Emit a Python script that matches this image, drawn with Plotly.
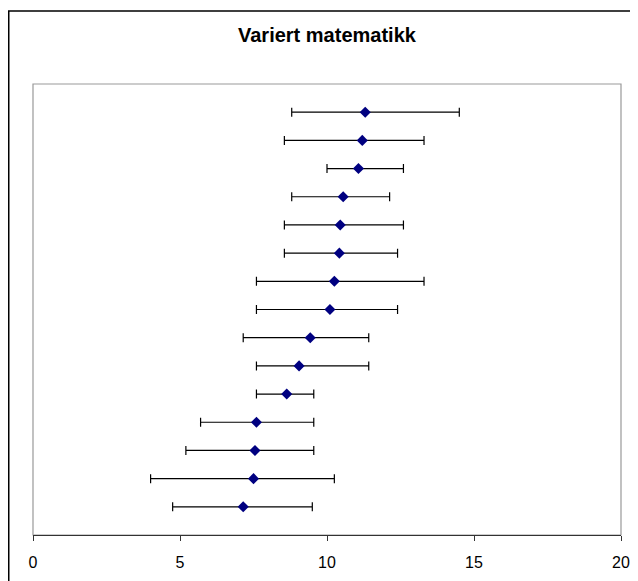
import plotly.graph_objects as go

# Data (top row first)
rows = list(range(15, 0, -1))
means = [11.3, 11.2, 11.07, 10.55, 10.45, 10.42, 10.25, 10.1, 9.43, 9.05, 8.63, 7.6, 7.55, 7.5, 7.15]
lows = [8.8, 8.55, 10.0, 8.8, 8.55, 8.55, 7.6, 7.6, 7.15, 7.6, 7.6, 5.7, 5.2, 4.0, 4.75]
highs = [14.5, 13.3, 12.6, 12.13, 12.6, 12.4, 13.3, 12.4, 11.42, 11.42, 9.55, 9.55, 9.55, 10.25, 9.5]
x_ticks = [0, 5, 10, 15, 20]
title_text = "Variert matematikk"

plus = [h - m for h, m in zip(highs, means)]
minus = [m - l for m, l in zip(means, lows)]

# the page body adds an 8px margin; lay the figure out 8px up/left
OFF = 8
W, H = 638, 581
L = 33 - OFF
Rx = 621 - OFF
T = 84 - OFF
By = 534.7 - OFF
pw, ph = Rx - L, By - T

def px_x(p):
    return (p - OFF - L) / pw

def px_y(p):
    return (By - (p - OFF)) / ph

fig = go.Figure()
fig.add_trace(go.Scatter(
    x=means, y=rows, mode="markers",
    marker=dict(symbol="diamond", color="#000080", size=8.5, line=dict(width=0)),
    error_x=dict(type="data", symmetric=False, array=plus, arrayminus=minus,
                 color="#000000", thickness=1.2, width=4.5),
    showlegend=False, cliponaxis=False,
))

shapes = [
    # outer chart border (left and top visible)
    dict(type="rect", xref="paper", yref="paper",
         x0=px_x(8.75), x1=px_x(680), y0=px_y(640), y1=px_y(11),
         line=dict(color="#000000", width=1.5), layer="below"),
    # plot area border
    dict(type="rect", xref="paper", yref="paper", x0=0, x1=1, y0=0, y1=1,
         line=dict(color="#999999", width=1.2), layer="below"),
]

fig.update_layout(
    width=W, height=H,
    margin=dict(l=L, r=W - Rx, t=T, b=H - By),
    paper_bgcolor="white", plot_bgcolor="white",
    font=dict(family="Liberation Sans, Arial, sans-serif", color="#000000"),
    shapes=shapes,
    annotations=[dict(text="<b>%s</b>" % title_text, xref="paper", yref="paper",
                      x=0.5, y=px_y(35), xanchor="center", yanchor="middle",
                      showarrow=False, font=dict(size=20, color="#000000"))],
    xaxis=dict(range=[0, 20], tickvals=x_ticks, ticktext=[str(v) for v in x_ticks],
               showgrid=False, zeroline=False, showline=True, linecolor="#333333",
               linewidth=1.2, ticks="outside", ticklen=5, tickcolor="#333333",
               tickwidth=1.2, tickfont=dict(size=16), ticklabelstandoff=8,
               fixedrange=True),
    yaxis=dict(range=[0, 16], showgrid=False, zeroline=False, showline=False,
               showticklabels=False, ticks="", fixedrange=True),
)

fig.write_html("out.html")
